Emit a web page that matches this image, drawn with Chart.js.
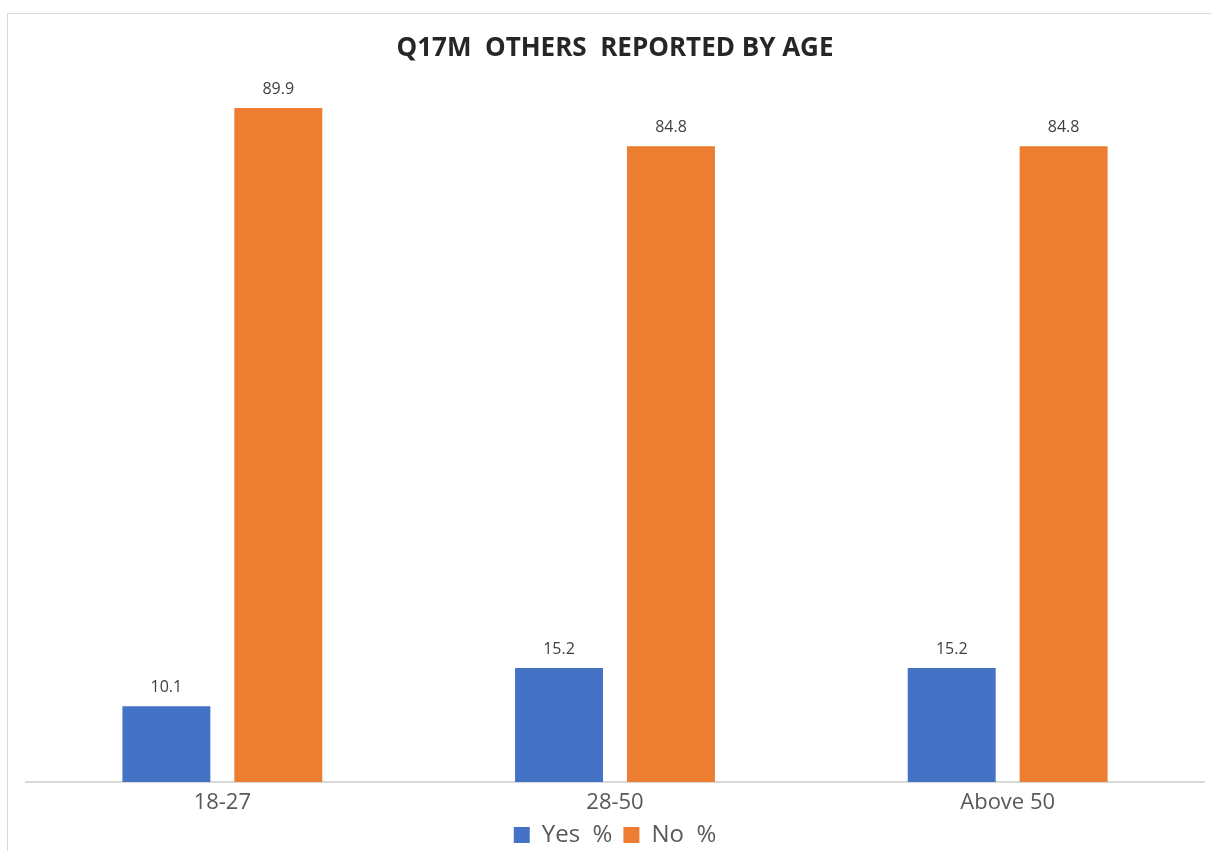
<!DOCTYPE html>
<html>
<head>
<meta charset="utf-8">
<script src="https://cdn.jsdelivr.net/npm/chart.js@4/dist/chart.umd.min.js"></script>
<style>
  html, body { margin: 0; padding: 0; background: #fff; overflow: hidden; }
  #wrap { position: relative; width: 1211px; height: 851px; overflow: hidden; }
  #frame { position: absolute; left: 7px; top: 13px; width: 1220px; height: 860px; border: 1px solid #d9d9d9; }
  canvas { position: absolute; left: 0; top: 0; }
</style>
</head>
<body>
<div id="wrap">
  <div id="frame"></div>
  <canvas id="age_chart" width="1211" height="857"></canvas>
</div>
<script>
// categories and series
let ageGroups = ["18-27", "28-50", "Above 50"];
let yesValues = [10.1, 15.2, 15.2];
let noValues = [89.9, 84.8, 84.8];
let seriesNames = ["Yes  %", "No  %"];

//draws the number above each bar
const barLabels = {
    id: "barLabels",
    afterDatasetsDraw(chart) {
        let ctx = chart.ctx;
        ctx.save();
        ctx.font = "16px 'Open Sans'";
        ctx.fillStyle = "#404040";
        ctx.textAlign = "center";
        ctx.textBaseline = "middle";
        chart.data.datasets.forEach((ds, i) => {
            chart.getDatasetMeta(i).data.forEach((bar, j) => {
                ctx.fillText(ds.data[j].toFixed(1), bar.x, bar.y - 19);
            });
        });
        ctx.restore();
    }
};

let canvas = document.querySelector("#age_chart").getContext("2d");
let chart = new Chart(canvas, {
    type: 'bar',
    data: {
        labels: ageGroups,
        datasets: [{
            label: seriesNames[0],
            backgroundColor: '#4472C4',
            data: yesValues
        }, {
            label: seriesNames[1],
            backgroundColor: '#ED7D31',
            data: noValues
        }]
    },
    options: {
        responsive: false,
        animation: false,
        layout: { padding: { left: 26, right: 7, top: 0, bottom: 0 } },
        datasets: {
            bar: { categoryPercentage: 0.57, barPercentage: 0.786 }
        },
        scales: {
            x: {
                grid: { display: false, drawTicks: false },
                border: { color: '#d9d9d9', width: 2 },
                ticks: { color: '#595959', font: { family: 'Open Sans', size: 22, lineHeight: 1.2 }, padding: 8 },
                // keep the axis box short so the legend sits close under the labels
                afterFit: (scale) => { scale.height = 30; }
            },
            y: {
                display: false,
                min: 0,
                max: 93.6
            }
        },
        plugins: {
            title: {
                display: true,
                text: 'Q17M  OTHERS  REPORTED BY AGE',
                color: '#262626',
                font: { family: 'Open Sans', size: 26, weight: 'bold', lineHeight: 1.2 },
                padding: { top: 33, bottom: 16 }
            },
            legend: {
                position: 'bottom',
                labels: {
                    color: '#595959',
                    font: { family: 'Open Sans', size: 24, lineHeight: 1 },
                    boxWidth: 16,
                    boxHeight: 16,
                    padding: 11
                }
            },
            tooltip: { enabled: false }
        }
    },
    plugins: [barLabels]
});
</script>
</body>
</html>
